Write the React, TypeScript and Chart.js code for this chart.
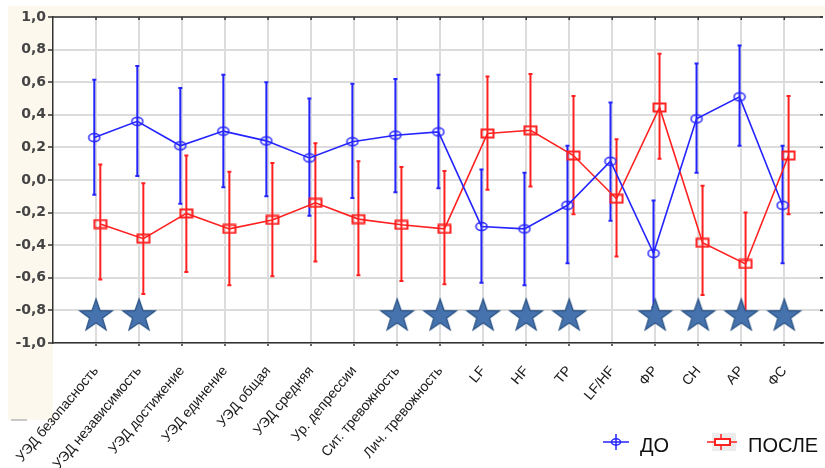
import React, { useEffect, useRef } from 'react';
import { Chart, registerables } from 'chart.js';

Chart.register(...registerables);

const categories = [
  'УЭД безопасность', 'УЭД независимость', 'УЭД достижение', 'УЭД единение',
  'УЭД общая', 'УЭД средняя', 'Ур. депрессии', 'Сит. тревожность',
  'Лич. тревожность', 'LF', 'HF', 'TP', 'LF/HF', 'ФР', 'СН', 'АР', 'ФС',
];

const doMean = [0.26, 0.36, 0.21, 0.30, 0.24, 0.135, 0.235, 0.275, 0.295, -0.285, -0.30, -0.155, 0.115, -0.45, 0.375, 0.51, -0.155];
const doLow = [-0.09, 0.025, -0.145, -0.045, -0.10, -0.22, -0.11, -0.075, -0.05, -0.63, -0.645, -0.51, -0.25, -0.78, 0.045, 0.21, -0.51];
const doHigh = [0.615, 0.70, 0.565, 0.645, 0.60, 0.50, 0.59, 0.62, 0.645, 0.065, 0.045, 0.21, 0.475, -0.125, 0.715, 0.825, 0.21];

const posleMean = [-0.27, -0.36, -0.205, -0.30, -0.245, -0.14, -0.24, -0.275, -0.30, 0.285, 0.305, 0.15, -0.115, 0.445, -0.385, -0.515, 0.15];
const posleLow = [-0.61, -0.70, -0.565, -0.645, -0.59, -0.50, -0.585, -0.62, -0.64, -0.06, -0.04, -0.21, -0.47, 0.13, -0.705, -0.83, -0.21];
const posleHigh = [0.095, -0.02, 0.15, 0.05, 0.105, 0.225, 0.115, 0.08, 0.055, 0.635, 0.65, 0.515, 0.25, 0.775, -0.035, -0.20, 0.515];

const starIndices = [0, 1, 7, 8, 9, 10, 11, 13, 14, 15, 16];
const starLevel = -0.835;

const yTickMin = -1;
const yTickMax = 1;
const yTickStep = 0.2;

const legendLabels = ['ДО', 'ПОСЛЕ'];

const BLUE = '#2424ff';
const RED = '#ff2020';
const CREAM = '#fcf8ee';
const DO_OFFSET = -0.04;
const POSLE_OFFSET = 0.1;

function makeEllipse(): HTMLCanvasElement {
  const c = document.createElement('canvas');
  c.width = 14; c.height = 11;
  const g = c.getContext('2d')!;
  g.strokeStyle = BLUE; g.lineWidth = 1.5;
  g.beginPath(); g.ellipse(7, 5.5, 5.5, 4, 0, 0, Math.PI * 2); g.stroke();
  return c;
}

function makeRect(): HTMLCanvasElement {
  const c = document.createElement('canvas');
  c.width = 15; c.height = 11;
  const g = c.getContext('2d')!;
  g.strokeStyle = RED; g.lineWidth = 2;
  g.strokeRect(1.5, 1.5, 12, 8);
  return c;
}

function makeStar(): HTMLCanvasElement {
  const c = document.createElement('canvas');
  c.width = 38; c.height = 38;
  const g = c.getContext('2d')!;
  const cx = 19, cy = 19, R = 17, r = 6.8;
  g.beginPath();
  for (let k = 0; k < 10; k++) {
    const rad = k % 2 === 0 ? R : r;
    const a = -Math.PI / 2 + (k * Math.PI) / 5;
    const px = cx + rad * Math.cos(a), py = cy + rad * Math.sin(a);
    if (k === 0) g.moveTo(px, py); else g.lineTo(px, py);
  }
  g.closePath();
  g.fillStyle = '#4673ad';
  g.fill();
  g.strokeStyle = '#2d5587';
  g.lineWidth = 1.3;
  g.stroke();
  return c;
}

const fmt = (v: number) => (Math.abs(v) < 1e-9 ? '0,0' : v.toFixed(1).replace('.', ','));

export default function App() {
  const ref = useRef<HTMLCanvasElement | null>(null);

  useEffect(() => {
    if (!ref.current) return;
    const ellipse = makeEllipse();
    const rect = makeRect();
    const star = makeStar();

    const bgPlugin = {
      id: 'bgPlugin',
      beforeDraw(chart: any) {
        const { ctx, chartArea: a, width, height } = chart;
        ctx.save();
        ctx.fillStyle = '#ffffff';
        ctx.fillRect(0, 0, width, height);
        ctx.fillStyle = CREAM;
        ctx.fillRect(8, 6, a.left - 8, 414);
        ctx.fillRect(8, 6, width - 8, a.top - 6);
        ctx.fillStyle = '#ffffff';
        ctx.fillRect(a.left, a.top, a.right - a.left, a.bottom - a.top);
        ctx.strokeStyle = '#c8c8c8';
        ctx.lineWidth = 2;
        ctx.beginPath(); ctx.moveTo(11, 420); ctx.lineTo(27, 420); ctx.stroke();
        ctx.restore();
      },
    };

    const errPlugin = {
      id: 'errPlugin',
      beforeDatasetsDraw(chart: any) {
        const { ctx } = chart;
        const xs = chart.scales.x, ys = chart.scales.y;
        const series = [
          { lo: doLow, hi: doHigh, off: DO_OFFSET, color: BLUE },
          { lo: posleLow, hi: posleHigh, off: POSLE_OFFSET, color: RED },
        ];
        ctx.save();
        ctx.lineWidth = 2;
        series.forEach((s) => {
          ctx.strokeStyle = s.color;
          s.lo.forEach((lo, i) => {
            const x = xs.getPixelForValue(i + s.off);
            const y1 = ys.getPixelForValue(s.hi[i]);
            const y2 = ys.getPixelForValue(lo);
            ctx.beginPath();
            ctx.moveTo(x, y1); ctx.lineTo(x, y2);
            ctx.moveTo(x - 2, y1); ctx.lineTo(x + 2, y1);
            ctx.moveTo(x - 2, y2); ctx.lineTo(x + 2, y2);
            ctx.stroke();
          });
        });
        ctx.restore();
      },
      afterDraw(chart: any) {
        const { ctx, chartArea: a } = chart;
        const xs = chart.scales.x, ys = chart.scales.y;
        ctx.save();
        ctx.strokeStyle = '#333';
        ctx.lineWidth = 1.5;
        ctx.beginPath(); ctx.moveTo(a.left, a.top); ctx.lineTo(a.right, a.top); ctx.stroke();
        xs.ticks.forEach((t: any) => {
          const x = xs.getPixelForValue(t.value);
          ctx.beginPath(); ctx.moveTo(x, a.top); ctx.lineTo(x, a.top + 3); ctx.stroke();
        });
        ys.ticks.forEach((t: any) => {
          const y = ys.getPixelForValue(t.value);
          ctx.beginPath(); ctx.moveTo(a.right - 3, y); ctx.lineTo(a.right, y); ctx.stroke();
        });
        // legend
        const ly = 442;
        ctx.lineWidth = 1.5;
        ctx.strokeStyle = BLUE;
        ctx.beginPath();
        ctx.moveTo(603, ly); ctx.lineTo(629, ly);
        ctx.moveTo(616, ly - 8); ctx.lineTo(616, ly + 8);
        ctx.stroke();
        ctx.beginPath(); ctx.ellipse(616, ly, 4.5, 3.2, 0, 0, Math.PI * 2); ctx.stroke();
        ctx.fillStyle = '#ececec';
        ctx.fillRect(712, ly - 9, 24, 18);
        ctx.strokeStyle = RED;
        ctx.beginPath();
        ctx.moveTo(707, ly); ctx.lineTo(737, ly);
        ctx.moveTo(721, ly - 8); ctx.lineTo(721, ly + 8);
        ctx.stroke();
        ctx.fillStyle = '#ffffff';
        ctx.fillRect(715, ly - 3, 15, 6);
        ctx.lineWidth = 2;
        ctx.strokeRect(715, ly - 3, 15, 6);
        ctx.font = '20px "Liberation Sans"';
        ctx.fillStyle = '#111';
        ctx.textBaseline = 'middle';
        ctx.fillText(legendLabels[0], 640, 446);
        ctx.fillText(legendLabels[1], 748, 446);
        ctx.restore();
      },
    };

    const chart = new Chart(ref.current, {
      type: 'scatter',
      data: {
        datasets: [
          {
            label: 'stars',
            data: starIndices.map((i) => ({ x: i, y: starLevel })),
            pointStyle: star as any,
            pointRadius: 17,
            showLine: false,
          } as any,
          {
            label: legendLabels[0],
            data: doMean.map((v, i) => ({ x: i + DO_OFFSET, y: v })),
            showLine: true,
            borderColor: BLUE,
            borderWidth: 1.6,
            pointStyle: ellipse as any,
            pointRadius: 6,
          },
          {
            label: legendLabels[1],
            data: posleMean.map((v, i) => ({ x: i + POSLE_OFFSET, y: v })),
            showLine: true,
            borderColor: RED,
            borderWidth: 1.6,
            pointStyle: rect as any,
            pointRadius: 6,
          },
        ],
      },
      options: {
        animation: false,
        responsive: false,
        events: [],
        layout: { autoPadding: false, padding: { left: 8, top: 17, right: 2, bottom: 0 } },
        plugins: { legend: { display: false }, tooltip: { enabled: false } },
        scales: {
          x: {
            type: 'linear',
            min: -1,
            max: 16.9,
            afterBuildTicks: (s: any) => {
              s.ticks = categories.map((_, i) => ({ value: i }));
            },
            afterFit: (s: any) => {
              s.height = 125;
              s.paddingLeft = 0;
              s.paddingRight = 0;
            },
            grid: { color: '#dcdcdc', lineWidth: 2, tickColor: '#333', tickLength: 3, tickWidth: 1.5 },
            border: { color: '#333', width: 1.5 },
            ticks: {
              autoSkip: false,
              minRotation: 50,
              maxRotation: 50,
              padding: 17,
              color: '#1a1a1a',
              font: { family: '"Liberation Sans"', size: 14 },
              callback: (v: any) => categories[v as number] ?? '',
            },
          },
          y: {
            min: yTickMin,
            max: yTickMax,
            afterFit: (s: any) => {
              s.width = 45;
              s.paddingTop = 0;
              s.paddingBottom = 0;
            },
            grid: { color: '#dcdcdc', lineWidth: 2, tickColor: '#333', tickLength: 5, tickWidth: 1.5 },
            border: { color: '#333', width: 1.5 },
            ticks: {
              stepSize: yTickStep,
              padding: 2,
              color: '#444',
              font: { family: '"DejaVu Sans"', size: 14, weight: 'bold' },
              callback: (v: any) => fmt(v as number),
            },
          },
        },
      },
      plugins: [bgPlugin, errPlugin],
    });
    return () => chart.destroy();
  }, []);

  return (
    <div style={{ position: 'fixed', left: 0, top: 0, width: 825, height: 468, background: '#fff' }}>
      <canvas ref={ref} width={825} height={468} style={{ display: 'block' }} />
    </div>
  );
}
